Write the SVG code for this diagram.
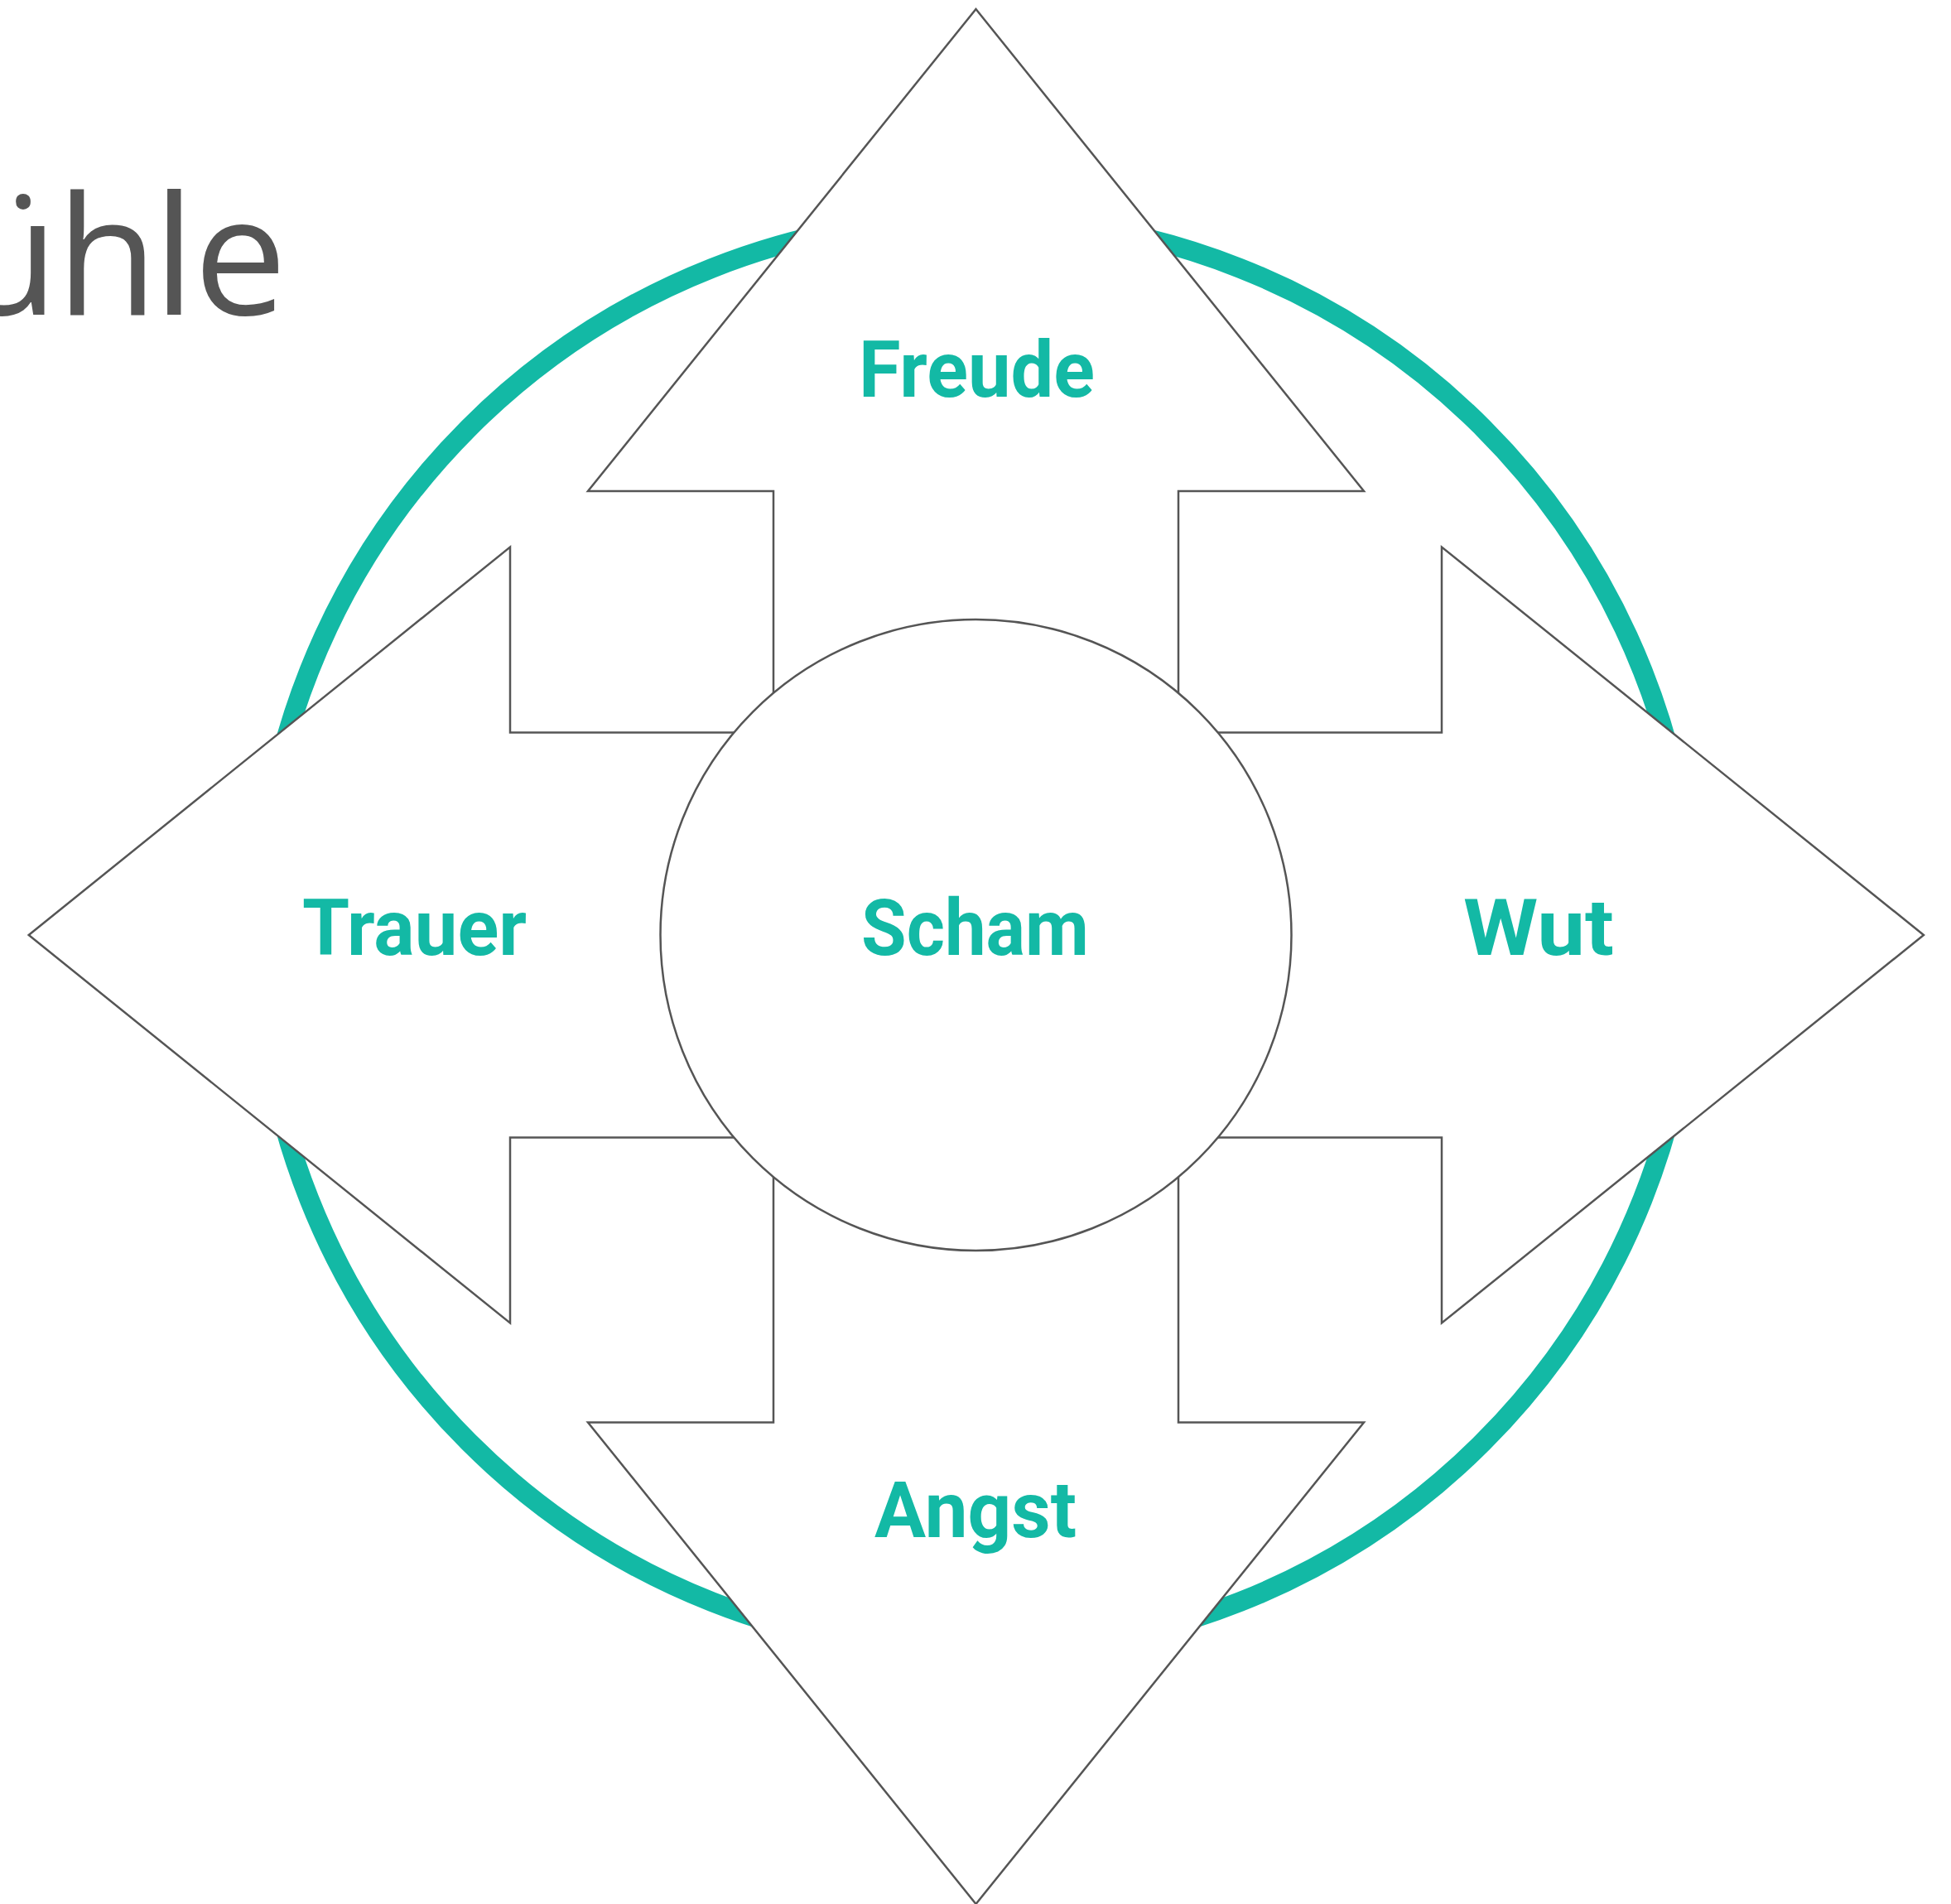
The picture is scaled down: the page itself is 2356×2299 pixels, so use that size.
<svg xmlns="http://www.w3.org/2000/svg" width="2356" height="2299" viewBox="0 0 2356 2299">
  <style>
    .ring { fill: none; stroke: #13B9A5; stroke-width: 24; }
    .shape { fill: #FFFFFF; stroke: #555555; stroke-width: 2.5; stroke-linejoin: miter; }
    .label { font-family: "Roboto", "Liberation Sans", sans-serif; font-weight: 700; font-size: 94px; fill: #13B9A5; text-anchor: middle; }
    .title { font-family: "Open Sans", "Liberation Sans", sans-serif; font-weight: 380; font-size: 200px; fill: #555555; }
  </style>
  <rect width="2356" height="2299" fill="#FFFFFF"/>

  <!-- heading, running off the left edge -->
  <text class="title" x="-52 68 185 234" y="380">ühle</text>

  <!-- outer ring behind the arrows -->
  <circle class="ring" cx="1178.5" cy="1129" r="866"/>

  <g id="arrow-freude">
    <polygon class="shape" points="1178.5,11 1647,593 1423,593 1423,1129 934,1129 934,593 710,593"/>
    <text class="label" x="1179.5" y="479" textLength="285" lengthAdjust="spacingAndGlyphs">Freude</text>
  </g>
  <g id="arrow-trauer">
    <polygon class="shape" points="34.7,1129 616,660.5 616,884.5 1178.5,884.5 1178.5,1373.5 616,1373.5 616,1597.5"/>
    <text class="label" x="500.5" y="1152.5" textLength="271" lengthAdjust="spacingAndGlyphs">Trauer</text>
  </g>
  <g id="arrow-wut">
    <polygon class="shape" points="2323,1129 1741,660.5 1741,884.5 1178.5,884.5 1178.5,1373.5 1741,1373.5 1741,1597.5"/>
    <text class="label" x="1858" y="1152.5" textLength="182" lengthAdjust="spacingAndGlyphs">Wut</text>
  </g>
  <g id="arrow-angst">
    <polygon class="shape" points="1178.5,2299 1647,1717.5 1423,1717.5 1423,1129 934,1129 934,1717.5 710,1717.5"/>
    <text class="label" x="1178" y="1856" textLength="244" lengthAdjust="spacingAndGlyphs">Angst</text>
  </g>

  <g id="center-scham">
    <circle class="shape" cx="1178.5" cy="1129" r="381"/>
    <text class="label" x="1177.5" y="1152.5" textLength="275" lengthAdjust="spacingAndGlyphs">Scham</text>
  </g>
</svg>
